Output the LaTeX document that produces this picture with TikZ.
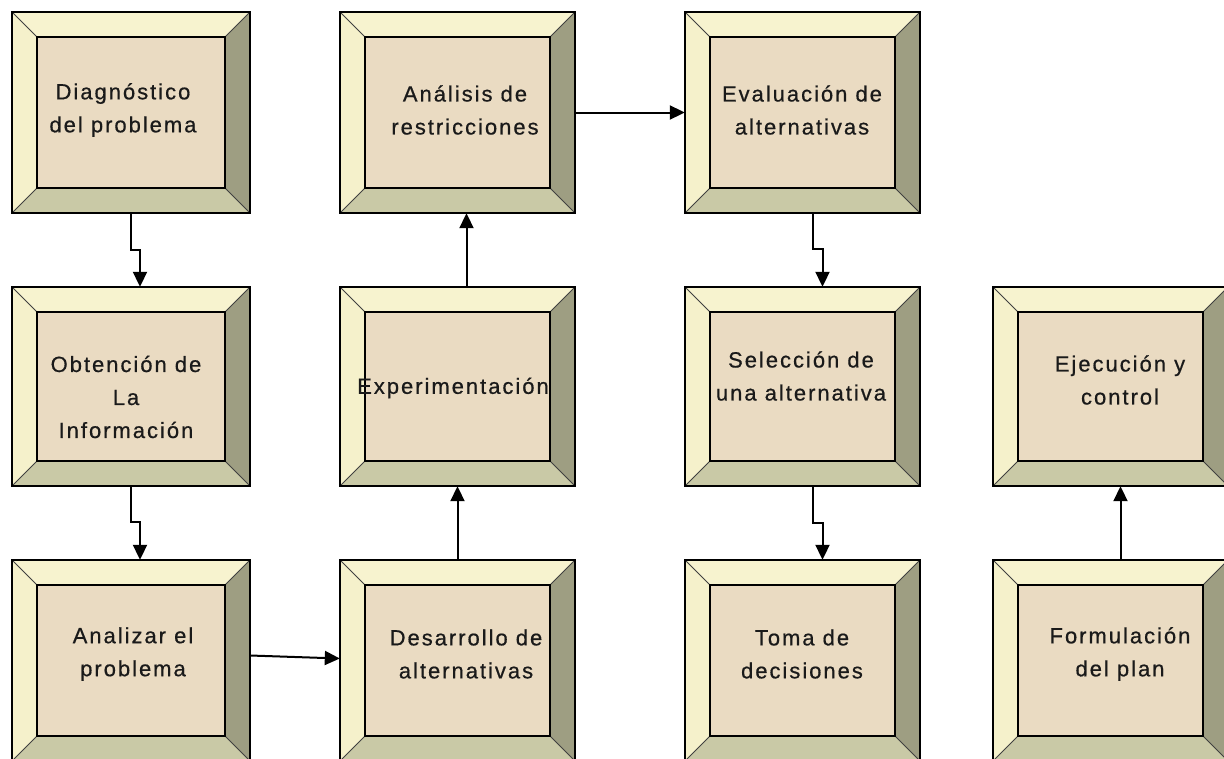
\documentclass[tikz,border=0pt]{standalone}
\usepackage{fontspec}
\setmainfont{Liberation Sans}
\newfontfamily\boxfont[LetterSpace=9,FakeBold=0.6]{Liberation Sans}
\usetikzlibrary{arrows.meta,calc,fit}
\definecolor{bevtopc}{HTML}{F7F3CF}
\definecolor{bevleftc}{HTML}{F5F1CB}
\definecolor{bevbotc}{HTML}{C9C9A6}
\definecolor{bevrightc}{HTML}{9E9E82}
\definecolor{parch}{HTML}{EADBC2}
\definecolor{inkc}{HTML}{1A1A1A}
\tikzset{
  bevtop/.style={fill=bevtopc},
  bevleft/.style={fill=bevleftc},
  bevbot/.style={fill=bevbotc},
  bevright/.style={fill=bevrightc},
  bevedge/.style={draw=black!75, line width=1pt},
  frame/.style={draw=black, line width=2.5pt},
  lbl/.style={font=\boxfont\fontsize{22}{33}\selectfont, text=inkc, align=center, inner sep=0pt},
  conn/.style={draw=black, line width=2pt, -{Triangle[length=15pt,width=14pt]}},
}
\newcommand\bevbox[5]{%
  \fill[bevtop] (#2,#3) -- (#4,#3) -- (#4-25,#3+25) -- (#2+25,#3+25) -- cycle;
  \fill[bevleft] (#2,#3) -- (#2+25,#3+25) -- (#2+25,#5-25) -- (#2,#5) -- cycle;
  \fill[bevbot] (#2,#5) -- (#2+25,#5-25) -- (#4-25,#5-25) -- (#4,#5) -- cycle;
  \fill[bevright] (#4,#3) -- (#4,#5) -- (#4-25,#5-25) -- (#4-25,#3+25) -- cycle;
  \draw[bevedge] (#2,#3) -- (#2+25,#3+25) (#4,#3) -- (#4-25,#3+25)
                 (#2,#5) -- (#2+25,#5-25) (#4,#5) -- (#4-25,#5-25);
  \draw[frame, fill=parch] (#2+25,#3+25) rectangle (#4-25,#5-25);
  \draw[frame] (#2,#3) rectangle (#4,#5);
  \node[fit={(#2,#3) (#4,#5)}, inner sep=0pt] (#1) {};
}
\begin{document}
\begin{tikzpicture}[x=1pt,y={(0pt,-1pt)}]
\fill[white] (0,0) rectangle (1224,758);
\useasboundingbox (0,0) rectangle (1224,758);

% column 1
\bevbox{diag}{12}{12}{250}{213}
\bevbox{obt}{12}{287}{250}{486}
\bevbox{anal}{12}{560}{250}{761}
% column 2
\bevbox{anali}{340}{12}{575}{213}
\bevbox{expe}{340}{287}{575}{486}
\bevbox{desa}{340}{560}{575}{761}
% column 3
\bevbox{eval}{685}{12}{920}{213}
\bevbox{sele}{685}{287}{920}{486}
\bevbox{toma}{685}{560}{920}{761}
% column 4
\bevbox{ejec}{993}{287}{1228}{486}
\bevbox{form}{993}{560}{1228}{761}

% labels
\node[lbl] (diag-t)  at (123,110)  {Diagnóstico\\del problema};
\node[lbl] (obt-t)   at (126,397)  {Obtención de\\La\\Información};
\node[lbl] (anal-t)  at (133,654)  {Analizar el\\problema};
\node[lbl] (anali-t) at (465,110)  {Análisis de\\restricciones};
\node[lbl] (expe-t)  at (453,388)  {Experimentación};
\node[lbl] (desa-t)  at (466,654)  {Desarrollo de\\alternativas};
\node[lbl] (eval-t)  at (802,110)  {Evaluación de\\alternativas};
\node[lbl] (sele-t)  at (801,376)  {Selección de\\una alternativa};
\node[lbl] (toma-t)  at (802,654)  {Toma de\\decisiones};
\node[lbl] (ejec-t)  at (1120,380) {Ejecución y\\control};
\node[lbl] (form-t)  at (1120,654) {Formulación\\del plan};

% connectors
\draw[conn] (diag.south) -- ++(0,37) -- ++(9,0) -- ($(obt.north)+(9,0)$);
\draw[conn] (obt.south) -- ++(0,36) -- ++(9,0) -- ($(anal.north)+(9,0)$);
\draw[conn] ([yshift=5pt]anal.east) -- ([yshift=2pt]desa.west);
\draw[conn] (desa.north) -- (expe.south);
\draw[conn] ([xshift=9pt]expe.north) -- ([xshift=9pt]anali.south);
\draw[conn] (anali.east) -- (eval.west);
\draw[conn] ([xshift=10pt]eval.south) -- ++(0,36) -- ++(10,0) -- ($(sele.north)+(20,0)$);
\draw[conn] ([xshift=10pt]sele.south) -- ++(0,37) -- ++(10,0) -- ($(toma.north)+(20,0)$);
\draw[conn] ([xshift=10pt]form.north) -- ([xshift=10pt]ejec.south);
\end{tikzpicture}
\end{document}
